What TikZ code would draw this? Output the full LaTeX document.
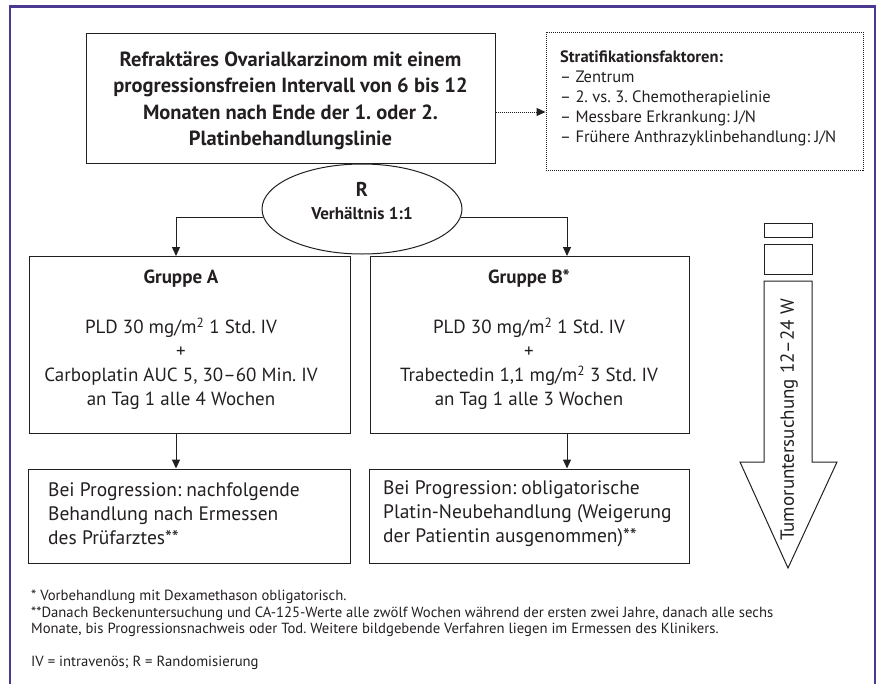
\documentclass[tikz,border=0pt]{standalone}
\usepackage{fontspec}
\setmainfont{PT Sans}
\usetikzlibrary{arrows.meta,shapes.geometric}
\definecolor{framepurple}{RGB}{76,56,142}
\definecolor{inkblack}{RGB}{35,31,32}
\frenchspacing
\tikzset{
  box/.style={draw=inkblack, line width=1pt, inner sep=0pt},
  dotbox/.style={draw=inkblack, line width=1pt, dash pattern=on 1pt off 1pt},
  flowarrow/.style={draw=inkblack, line width=1pt, -{Triangle[length=9pt,width=8pt]}},
  grouptext/.style={align=center, inner sep=0pt, text=inkblack, font=\fontsize{19}{24}\selectfont},
  resulttext/.style={anchor=west, align=left, inner sep=0pt, text=inkblack, font=\fontsize{19.5}{24}\selectfont},
}
\begin{document}
\begin{tikzpicture}[x=1pt,y=-1pt]
\useasboundingbox (0,0) rectangle (881,683);
\draw[framepurple, line width=2.8pt] (10,700) -- (10,6.5) -- (875,6.5) -- (875,700);

% Einschluss und Stratifikation
\node[box, minimum width=409pt, minimum height=130pt] (main) at (290.5,98) {};
\node[align=center, inner sep=0pt, text=inkblack, font=\bfseries\fontsize{20.5}{26.5}\selectfont] (maintext) at (290.5,101)
  {Refraktäres Ovarialkarzinom mit einem\\ progressionsfreien Intervall von 6 bis 12\\
   Monaten nach Ende der 1. oder 2.\\ Platinbehandlungslinie};
\node[dotbox, minimum width=317pt, minimum height=138pt] (strat) at (704.5,101) {};
\node[anchor=west, align=left, inner sep=0pt, text=inkblack, font=\fontsize{16.5}{20}\selectfont] (strattext) at (560,98)
  {\textbf{Stratifikationsfaktoren:}\\ – Zentrum\\ – 2. vs. 3. Chemotherapielinie\\
   – Messbare Erkrankung: J/N\\ – Frühere Anthrazyklinbehandlung: J/N};
\draw[flowarrow, dash pattern=on 1pt off 1pt] ([yshift=-14pt]main.east) -- ([yshift=-14pt]main.east -| strat.west);

% Randomisierung
\node[draw=inkblack, line width=1pt, ellipse, minimum width=200pt, minimum height=90pt, inner sep=0pt] (R) at (362,209) {};
\node[align=center, inner sep=0pt, text=inkblack, font=\bfseries\fontsize{17}{23}\selectfont] (Rtext) at (362,201)
  {{\fontsize{20}{23}\selectfont R}\\ Verhältnis 1:1};
\coordinate (inA) at (176,256);
\coordinate (inB) at (567,256);
\draw[flowarrow] (R.185) -| (inA);
\draw[flowarrow] (R.355) -| (inB);

% Behandlungsgruppen
\node[box, minimum width=321pt, minimum height=177pt] (A) at (189.5,344.5) {};
\node[grouptext] (Atext) at (181,340)
  {\textbf{Gruppe A}\\[26pt] PLD 30 mg/m\textsuperscript{2} 1 Std. IV\\ +\\
   Carboplatin AUC 5, 30–60 Min. IV\\ an Tag 1 alle 4 Wochen};
\node[box, minimum width=319pt, minimum height=177pt] (B) at (529.5,344.5) {};
\node[grouptext] (Btext) at (529,340)
  {\textbf{Gruppe B*}\\[26pt] PLD 30 mg/m\textsuperscript{2} 1 Std. IV\\ +\\
   Trabectedin 1,1 mg/m\textsuperscript{2} 3 Std. IV\\ an Tag 1 alle 3 Wochen};

% Weiterbehandlung
\node[box, minimum width=322pt, minimum height=94pt] (PA) at (189,516) {};
\node[resulttext] (PAtext) at (48,514)
  {Bei Progression: nachfolgende\\ Behandlung nach Ermessen\\ des Prüfarztes**};
\node[box, minimum width=320pt, minimum height=94pt] (PB) at (529,516) {};
\node[resulttext] (PBtext) at (383,514)
  {Bei Progression: obligatorische\\ Platin-Neubehandlung (Weigerung\\ der Patientin ausgenommen)**};
\draw[flowarrow] (A.south -| inA) -- (PA.north -| inA);
\draw[flowarrow] (B.south -| inB) -- (PB.north -| inB);

% Zeitachse
\node[box, minimum width=48pt, minimum height=14pt] (week1) at (788,230) {};
\node[box, minimum width=48pt, minimum height=30pt] (week2) at (788,259) {};
\draw[inkblack, line width=1pt] (764,281) -- (812,281) -- (812,462) -- (837,462) -- (788,568)
  -- (740,462) -- (764,462) -- cycle;
\node[rotate=90, inner sep=0pt, text=inkblack, font=\fontsize{19}{20}\selectfont] (tumor) at (789,420)
  {Tumoruntersuchung 12–24 W};

% Fussnoten
\node[anchor=west, align=left, inner sep=0pt, text=inkblack, font=\fontsize{14.7}{16.5}\selectfont] (notes) at (31,630)
  {* Vorbehandlung mit Dexamethason obligatorisch.\\
   **Danach Beckenuntersuchung und CA-125-Werte alle zwölf Wochen während der ersten zwei Jahre, danach alle sechs\\
   Monate, bis Progressionsnachweis oder Tod. Weitere bildgebende Verfahren liegen im Ermessen des Klinikers.\\[16.5pt]
   IV = intravenös; R = Randomisierung};
\end{tikzpicture}
\end{document}
